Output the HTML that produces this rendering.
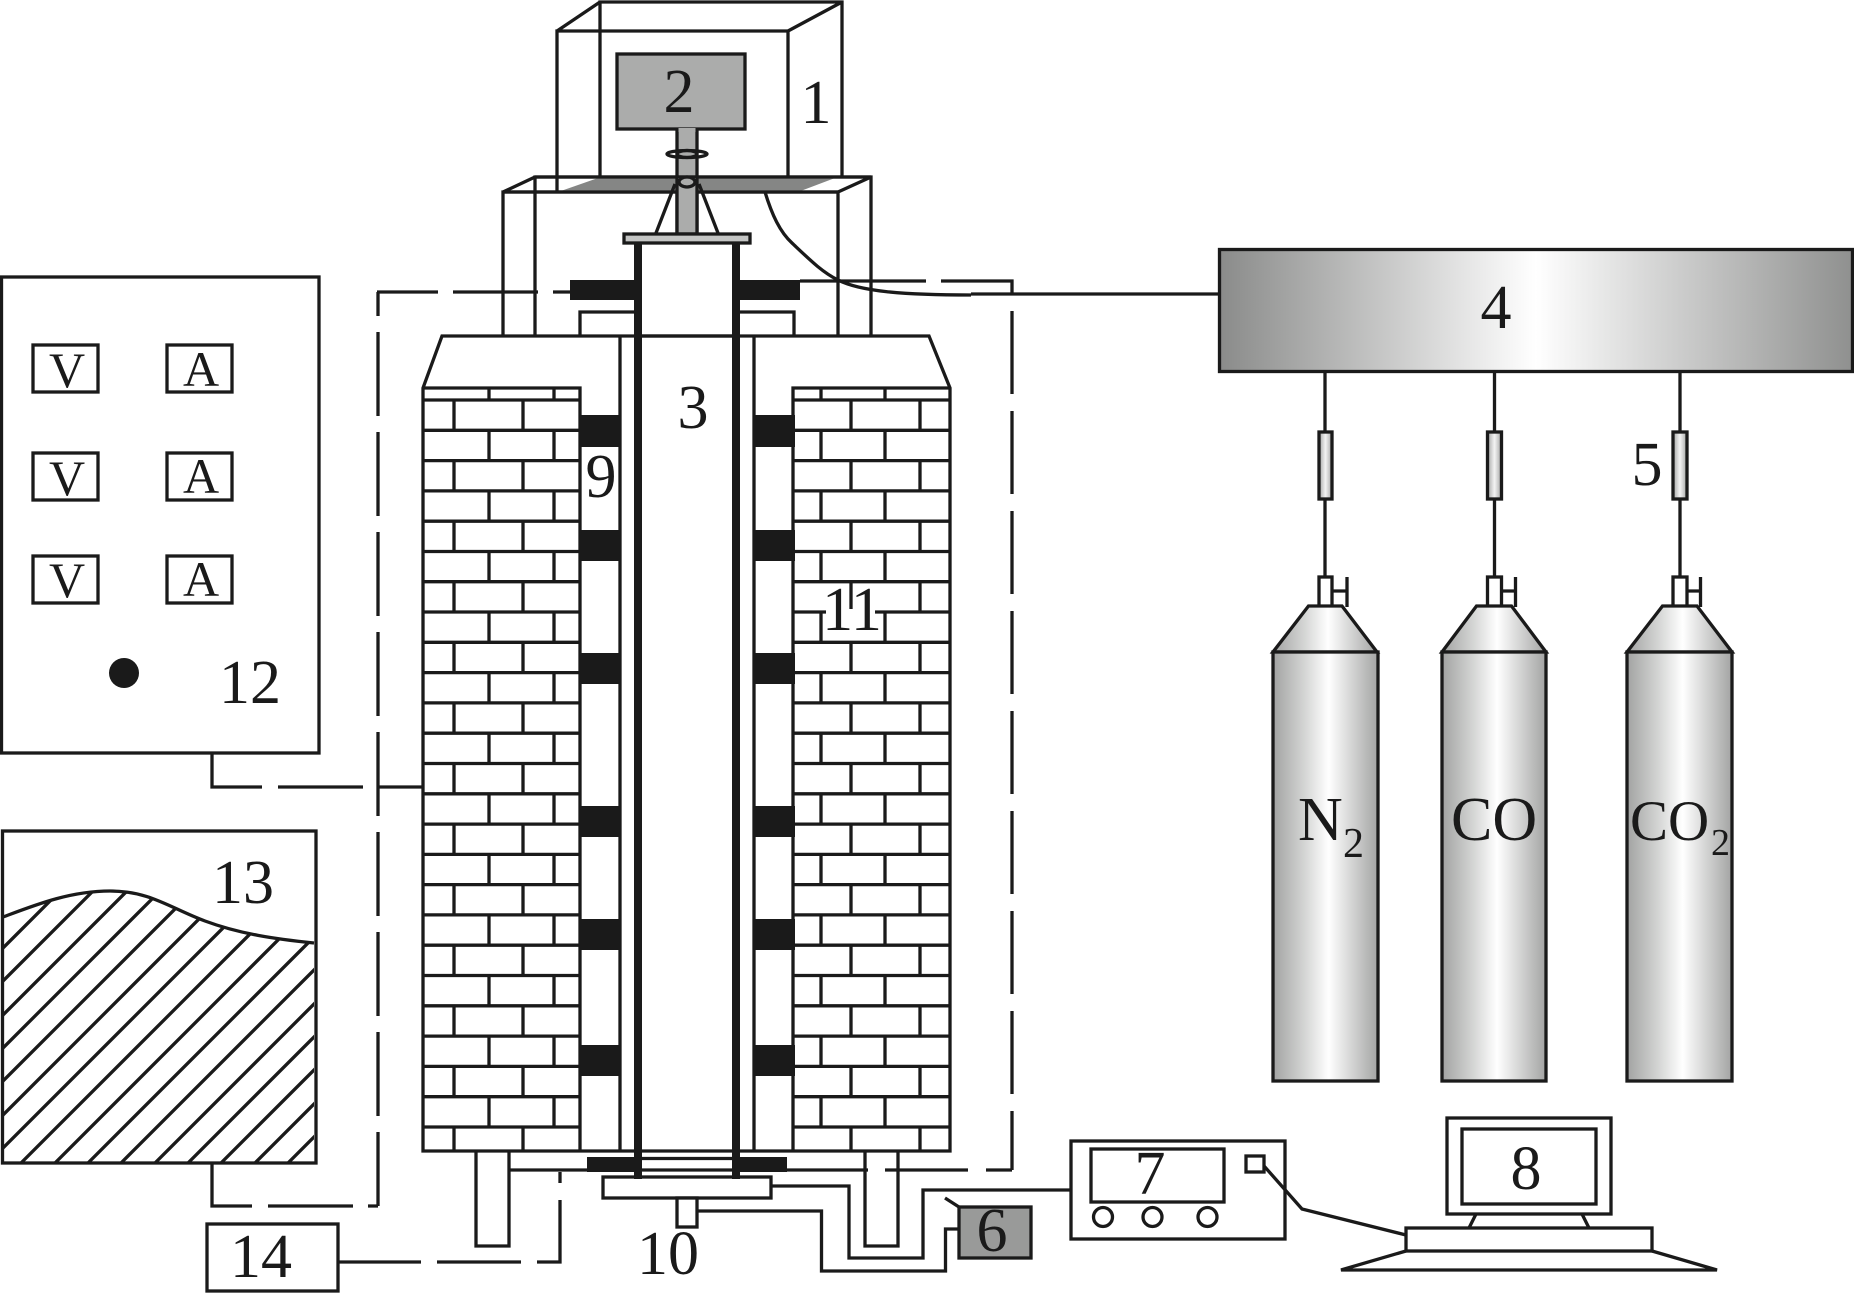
<!DOCTYPE html>
<html>
<head>
<meta charset="utf-8">
<style>
html,body{margin:0;padding:0;background:#fff;}
svg{display:block;}
text{font-family:"Liberation Serif",serif;fill:#1a1a1a;}
</style>
</head>
<body>
<svg xmlns="http://www.w3.org/2000/svg" width="1854" height="1297" viewBox="0 0 1854 1297">
<defs>
<linearGradient id="cyl" x1="0" x2="1" y1="0" y2="0">
<stop offset="0" stop-color="#a2a3a2"/><stop offset="0.3" stop-color="#d4d5d4"/><stop offset="0.53" stop-color="#ffffff"/><stop offset="1" stop-color="#a3a4a3"/>
</linearGradient>
<linearGradient id="bar" x1="0" x2="1" y1="0" y2="0">
<stop offset="0" stop-color="#8a8b8a"/><stop offset="0.5" stop-color="#ffffff"/><stop offset="1" stop-color="#8f908f"/>
</linearGradient>
<linearGradient id="met" x1="0" x2="1" y1="0" y2="0">
<stop offset="0" stop-color="#a5a6a5"/><stop offset="0.5" stop-color="#f4f4f4"/><stop offset="1" stop-color="#a5a6a5"/>
</linearGradient>
<clipPath id="wave"><path d="M3 917 C35 905 70 891 110 891 C150 891 170 908 205 921 C240 934 275 939 314 943 L314 1163 L3 1163 Z"/></clipPath>
</defs>
<rect width="1854" height="1297" fill="#fff"/>
<g fill="none" stroke="#1a1a1a" stroke-width="3.3">

<!-- top enclosure -->
<path d="M600 177V2H842V177M557 192V31H788V177M557 31L600 2M788 31L842 2M557 31H788"/>
<rect x="617" y="54" width="128" height="75" fill="#abacab"/>
<path d="M677 129V234H697V129" fill="#abacab"/>
<rect x="678.500" y="128" width="17" height="4" fill="#abacab" stroke="none"/>
<ellipse cx="687" cy="154" rx="20" ry="3.500"/>
<ellipse cx="687" cy="154" rx="10" ry="3.500"/>

<!-- lower enclosure -->
<path d="M503 336V192H838V336M535 336V177H871V336M503 192L535 177M838 192L871 177" />
<path d="M558 192L598 178H835L798 192Z" fill="#858685" stroke="none"/>
<path d="M503 192H838M535 177H871" />
<path d="M677 178V234H697V178" fill="#abacab"/>
<ellipse cx="687" cy="182" rx="8" ry="5" fill="#abacab"/>
<path d="M675 184L656 233M699 184L718 233"/>
<rect x="624" y="234" width="126" height="9" fill="#c4c5c4"/>

<!-- curve wire to 4 -->
<path d="M765 192C772 215 780 232 792 243C810 260 822 272 838 280C860 291 900 295 971 295"/>
<path d="M971 294H1219"/>

<!-- dashed control loop -->
<path d="M800 281H926M941 281H1012V293"/>
<path d="M1012 311V1170" stroke-dasharray="83 17"/>
<path d="M1012 1170H986M968 1170H885M868 1170H509"/>
<path d="M570 292H553M538 292H453M438 292H377"/>
<path d="M378 292V1206" stroke-dasharray="84 16" stroke-dashoffset="60"/>
<path d="M212 1163V1206H252M268 1206H353M368 1206H378"/>
<path d="M212 753V787H262M278 787H363M378 787H423"/>
<path d="M338 1262H421M437 1262H521M537 1262H560V1200M560 1183V1172"/>

<!-- furnace -->
<path d="M423 1151V388L442 336H929L950 388V1151Z"/>
<path d="M423 388H580V1151M620 336V1151M754 336V1151M793 1151V388H950"/>
<!-- bricks horizontal -->
<path d="M423 400H580M423 430.300H580M423 460.600H580M423 490.900H580M423 521.200H580M423 551.500H580M423 581.700H580M423 612H580M423 642.300H580M423 672.600H580M423 702.900H580M423 733.200H580M423 763.500H580M423 793.800H580M423 824.100H580M423 854.400H580M423 884.600H580M423 914.900H580M423 945.200H580M423 975.500H580M423 1005.800H580M423 1036.100H580M423 1066.400H580M423 1096.700H580M423 1127H580"/>
<path d="M793 400H950M793 430.300H950M793 460.600H950M793 490.900H950M793 521.200H950M793 551.500H950M793 581.700H950M793 612H950M793 642.300H950M793 672.600H950M793 702.900H950M793 733.200H950M793 763.500H950M793 793.800H950M793 824.100H950M793 854.400H950M793 884.600H950M793 914.900H950M793 945.200H950M793 975.500H950M793 1005.800H950M793 1036.100H950M793 1066.400H950M793 1096.700H950M793 1127H950"/>
<!-- bricks vertical -->
<path d="M454 400V1151M523 400V1151M851 400V1151M920 400V1151" stroke-dasharray="30.290 30.290"/>
<path d="M489 430.300V1151M554 430.300V1151M821 430.300V1151M885 430.300V1151" stroke-dasharray="30.290 30.290"/>
<path d="M489 389V400M554 389V400M821 389V400M885 389V400"/>

<!-- legs -->
<path d="M476 1151V1246H509V1151M865 1151V1246H898V1151"/>
<!-- bottom parts -->
<path d="M635 1158.500H732"/>
<rect x="603" y="1177" width="168" height="21" fill="#fff"/>
<rect x="677" y="1198" width="20" height="29" fill="#fff"/>
<path d="M771 1186H849V1258H923V1190H1071"/>
<path d="M697 1211H821.500V1271H945.500V1229H959"/>
<path d="M945 1198L959 1207"/>
<rect x="959" y="1207" width="72" height="51" fill="#999a99"/>

<!-- box 7 -->
<rect x="1071" y="1141" width="214" height="98" fill="#fff"/>
<rect x="1091" y="1149" width="133" height="53"/>
<rect x="1246" y="1156" width="18" height="16"/>
<ellipse cx="1103" cy="1217" rx="9.500" ry="9.500"/>
<ellipse cx="1152.500" cy="1217" rx="9.500" ry="9.500"/>
<ellipse cx="1207.500" cy="1217" rx="9.500" ry="9.500"/>
<path d="M1264 1166L1302 1209L1406 1235"/>

<!-- computer -->
<rect x="1447" y="1118" width="164" height="96"/>
<rect x="1462" y="1129" width="134" height="75"/>
<path d="M1476 1214L1469 1228M1582 1214L1589 1228"/>
<rect x="1406" y="1228" width="246" height="23"/>
<path d="M1406 1251L1341 1270H1717L1652 1251"/>

<!-- panel 12 -->
<rect x="1.500" y="277" width="317.500" height="476" fill="none"/>
<rect x="33" y="345" width="65" height="47"/>
<rect x="33" y="453" width="65" height="47"/>
<rect x="33" y="556" width="65" height="47"/>
<rect x="167" y="345" width="65" height="47"/>
<rect x="167" y="453" width="65" height="47"/>
<rect x="167" y="556" width="65" height="47"/>
<circle cx="124" cy="673" r="15" fill="#1a1a1a" stroke="none"/>

<!-- box 13 -->
<path d="M-212 1163L151 800M-179 1163L184 800M-145 1163L218 800M-112 1163L251 800M-79 1163L284 800M-45 1163L318 800M-12 1163L351 800M21 1163L384 800M55 1163L418 800M88 1163L451 800M121 1163L484 800M155 1163L518 800M188 1163L551 800M221 1163L584 800M255 1163L618 800M288 1163L651 800" clip-path="url(#wave)"/>
<path d="M3 917C35 905 70 891 110 891C150 891 170 908 205 921C240 934 275 939 314 943"/>
<rect x="2.500" y="831" width="313.500" height="332"/>
<rect x="207" y="1224" width="131" height="67"/>

<!-- box 4 -->
<rect x="1219.500" y="249.500" width="633" height="122" fill="url(#bar)"/>

<!-- gas lines -->
<path d="M1325 372V432M1325 499V577M1494.500 372V432M1494.500 499V577M1680 372V432M1680 499V577"/>
<rect x="1319" y="432" width="13" height="67" fill="url(#met)"/>
<rect x="1487.500" y="432" width="14" height="67" fill="url(#met)"/>
<rect x="1673" y="432" width="14" height="67" fill="url(#met)"/>
<rect x="1319" y="577" width="13" height="30" fill="#fff"/>
<rect x="1487.500" y="577" width="14" height="30" fill="#fff"/>
<rect x="1673" y="577" width="14" height="30" fill="#fff"/>
<path d="M1332 591H1347M1347 577V607M1501.500 591H1515.500M1515.500 577V607M1687 591H1700.500M1700.500 577V607"/>

<!-- cylinders -->
<path d="M1308.500 606H1342L1377 652H1273Z" fill="url(#cyl)"/>
<rect x="1273" y="652" width="105" height="429" fill="url(#cyl)"/>
<path d="M1476.500 606H1511.500L1546 652H1442Z" fill="url(#cyl)"/>
<rect x="1442" y="652" width="104" height="429" fill="url(#cyl)"/>
<path d="M1662.500 606H1697L1732 652H1627Z" fill="url(#cyl)"/>
<rect x="1627" y="652" width="105" height="429" fill="url(#cyl)"/>
</g>

<!-- solid black pieces -->
<g fill="#1a1a1a" stroke="none">
<rect x="570" y="280" width="65" height="20"/>
<rect x="739" y="280" width="61" height="20"/>
<rect x="579" y="415" width="42" height="32"/><rect x="579" y="530" width="42" height="31"/><rect x="579" y="653" width="42" height="31"/><rect x="579" y="806" width="42" height="31"/><rect x="579" y="919" width="42" height="31"/><rect x="579" y="1045" width="42" height="31"/>
<rect x="753" y="415" width="42" height="32"/><rect x="753" y="530" width="42" height="31"/><rect x="753" y="653" width="42" height="31"/><rect x="753" y="806" width="42" height="31"/><rect x="753" y="919" width="42" height="31"/><rect x="753" y="1045" width="42" height="31"/>
<rect x="587" y="1157" width="48" height="15"/>
<rect x="732" y="1157" width="55" height="15"/>
<rect x="634" y="243" width="8" height="936"/>
<rect x="732" y="243" width="8" height="936"/>
</g>
<!-- top furnace box pieces -->
<g fill="none" stroke="#1a1a1a" stroke-width="3.3">
<path d="M580 336V312H634M740 312H794V336"/>
<path d="M635 336H732"/>
</g>
<rect x="826" y="609" width="49" height="6" fill="#fff"/>

<!-- labels -->
<g font-size="62" text-anchor="middle">
<text x="816" y="123">1</text>
<text x="679" y="112">2</text>
<text x="693" y="428">3</text>
<text x="1496" y="328">4</text>
<text x="1647" y="485">5</text>
<text x="992" y="1251">6</text>
<text x="1150" y="1194">7</text>
<text x="1526" y="1189">8</text>
<text x="601" y="497">9</text>
<text x="668" y="1274">10</text>
<text x="852" y="630">11</text>
<text x="250" y="703">12</text>
<text x="243" y="903">13</text>
<text x="261" y="1277">14</text>
</g>
<g font-size="50" text-anchor="middle">
<text x="67" y="387">V</text>
<text x="67" y="495">V</text>
<text x="67" y="597">V</text>
<text x="201" y="386">A</text>
<text x="201" y="493">A</text>
<text x="201" y="596">A</text>
</g>
<text x="1298" y="840" font-size="62">N</text>
<text x="1343" y="857" font-size="42">2</text>
<text x="1451" y="840" font-size="62">CO</text>
<text x="1630" y="840" font-size="57">CO</text>
<text x="1711" y="855" font-size="38">2</text>
</svg>
</body>
</html>
